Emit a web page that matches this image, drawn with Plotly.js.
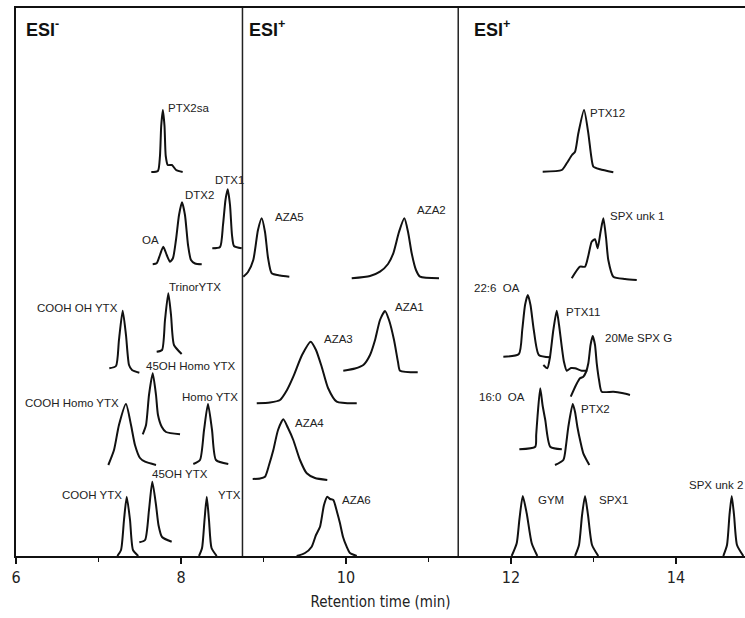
<!DOCTYPE html>
<html>
<head>
<meta charset="utf-8">
<script src="https://cdn.plot.ly/plotly-3.0.1.min.js"></script>
<style>html,body{margin:0;padding:0;background:#fff;}#chart{width:745px;height:618px;}</style>
</head>
<body>
<div id="chart"></div>
<script>
// ---- Data: retention time (min) and stacked signal (arbitrary units) ----
// ESI- panel
const ptx2sa_t = [7.64, 7.72, 7.745, 7.76, 7.78, 7.80, 7.815, 7.84, 7.89, 7.94, 8.02];
const ptx2sa_y = [384, 385, 400, 430, 446, 430, 400, 391, 391, 386, 384];
const oaDtx2_t = [7.657, 7.705, 7.745, 7.785, 7.827, 7.867, 7.903, 7.939, 7.976, 8.012, 8.048, 8.085, 8.121, 8.170, 8.251];
const oaDtx2_y = [291.7, 292.7, 301, 309.3, 301, 294.3, 298, 316, 341, 353.7, 341, 311, 296, 292.5, 291.7];
const dtx1_t = [8.379, 8.473, 8.509, 8.539, 8.566, 8.594, 8.618, 8.642, 8.736];
const dtx1_y = [307.7, 309, 331, 356, 366.7, 351, 321, 310, 307.7];
const trinor_t = [7.705, 7.770, 7.806, 7.846, 7.879, 7.915, 8.008];
const trinor_y = [204.3, 206, 236, 262.7, 241, 211, 202];
const coohOh_t = [7.131, 7.212, 7.248, 7.293, 7.333, 7.370, 7.406, 7.495];
const coohOh_y = [187.7, 190, 216, 245.3, 221, 191, 186, 183.3];
const oh45Homo_t = [7.536, 7.576, 7.612, 7.657, 7.697, 7.721, 7.766, 7.818, 7.988];
const oh45Homo_y = [121.7, 131, 161, 182.7, 161, 141, 129.3, 124, 121.7];
const homo_t = [8.149, 8.230, 8.279, 8.327, 8.376, 8.424, 8.573];
const homo_y = [92, 96, 126, 152, 126, 96, 92];
const coohHomo_t = [7.119, 7.188, 7.248, 7.333, 7.394, 7.442, 7.503, 7.564, 7.697];
const coohHomo_y = [91, 106, 131, 152, 131, 111, 98, 94.3, 91];
const oh45_t = [7.495, 7.564, 7.612, 7.652, 7.697, 7.727, 7.770, 7.887];
const oh45_y = [13.7, 16, 46, 74.3, 51, 31, 19, 14.3];
const cooh_t = [7.228, 7.273, 7.309, 7.342, 7.382, 7.418, 7.482];
const cooh_y = [0, 6, 36, 59.3, 36, 6, 0];
const ytx_t = [8.218, 8.255, 8.285, 8.312, 8.339, 8.370, 8.433];
const ytx_y = [0, 8, 36, 59.3, 36, 8, 0];
// ESI+ panel (azaspiracids)
const aza5_t = [8.755, 8.812, 8.876, 8.933, 8.978, 9.018, 9.055, 9.099, 9.200, 9.313];
const aza5_y = [279.3, 284, 296, 326, 337.7, 324, 298, 282.7, 280.5, 279.3];
const aza2_t = [10.069, 10.291, 10.412, 10.509, 10.573, 10.642, 10.707, 10.752, 10.796, 10.848, 10.897, 11.127];
const aza2_y = [277.7, 280, 284.3, 292, 302.7, 324, 337.7, 324, 302.7, 286, 279.3, 277.7];
const aza1_t = [9.967, 10.109, 10.210, 10.291, 10.352, 10.412, 10.473, 10.521, 10.582, 10.630, 10.655, 10.869];
const aza1_y = [185.3, 187.5, 191, 201, 216, 236, 245, 236, 216, 194, 185.3, 183.7];
const aza3_t = [8.918, 9.079, 9.200, 9.285, 9.361, 9.467, 9.572, 9.636, 9.705, 9.782, 9.887, 10.130];
const aza3_y = [152.7, 153.5, 156, 166, 179.3, 201, 214.3, 206, 189.3, 168, 154.3, 152.7];
const aza4_t = [8.869, 8.958, 9.018, 9.067, 9.119, 9.176, 9.240, 9.297, 9.361, 9.442, 9.524, 9.624, 9.773];
const aza4_y = [77, 77.5, 79.3, 91, 106, 126, 136.7, 128, 116, 96, 82.7, 78, 76];
const aza6_t = [9.402, 9.503, 9.584, 9.636, 9.685, 9.733, 9.773, 9.806, 9.846, 9.891, 9.927, 9.964, 10.008, 10.048, 10.130];
const aza6_y = [0, 3, 9.3, 21, 29.3, 51, 59.3, 57, 56, 44, 32.7, 19, 9.3, 3, 0];
// ESI+ panel (others)
const ptx12_t = [12.384, 12.615, 12.675, 12.739, 12.776, 12.816, 12.885, 12.937, 12.970, 12.998, 13.079, 13.240];
const ptx12_y = [384.3, 386, 392.7, 401, 404.3, 422.7, 446, 422.7, 401, 389.3, 386.7, 383.7];
const spxUnk1_t = [12.736, 12.836, 12.897, 12.939, 12.978, 13.018, 13.050, 13.085, 13.119, 13.152, 13.179, 13.240, 13.382, 13.524];
const spxUnk1_y = [277.7, 289.3, 289.3, 301, 314.3, 316.7, 307.7, 324, 337.7, 318, 296, 279.3, 277, 276];
const oa226_t = [11.907, 12.095, 12.136, 12.170, 12.204, 12.236, 12.276, 12.337, 12.479];
const oa226_y = [199.3, 202, 226, 251, 261, 251, 226, 201, 198.7];
const ptx11_t = [12.392, 12.440, 12.473, 12.513, 12.554, 12.582, 12.615, 12.642, 12.675, 12.727, 12.776, 12.857, 12.925];
const ptx11_y = [191, 187.7, 199.3, 226, 245.3, 231, 209.3, 194, 185.3, 188, 187.7, 185.3, 185.3];
const spxG_t = [12.724, 12.788, 12.836, 12.876, 12.909, 12.937, 12.964, 12.990, 13.018, 13.039, 13.067, 13.099, 13.240, 13.361, 13.442];
const spxG_y = [159.3, 171, 177.7, 179.3, 184, 192.7, 211, 220, 211, 192.7, 176, 164.3, 164.3, 162.7, 161];
const oa160_t = [12.101, 12.294, 12.305, 12.321, 12.354, 12.382, 12.415, 12.475, 12.616];
const oa160_y = [106.7, 109.3, 121, 139.3, 167.7, 151, 136, 109.3, 106.7];
const ptx2_t = [12.533, 12.634, 12.667, 12.695, 12.748, 12.776, 12.804, 12.842, 12.876, 12.949];
const ptx2_y = [91, 96, 111, 129.3, 152, 144, 129.3, 114, 102.7, 91];
const gym_t = [12.008, 12.069, 12.101, 12.142, 12.190, 12.251, 12.319];
const gym_y = [0, 12.7, 36, 60, 42.7, 12.7, 0];
const spx1_t = [12.776, 12.824, 12.861, 12.897, 12.933, 12.982, 13.058];
const spx1_y = [0, 11, 41, 60, 41, 11, 0];
const spxUnk2_t = [14.573, 14.618, 14.648, 14.675, 14.703, 14.739, 14.816];
const spxUnk2_y = [0, 11, 41, 60, 41, 11, 0];

// Peak labels: text, anchor retention time, anchor signal
const labelText = ["PTX2sa", "OA", "DTX2", "DTX1", "TrinorYTX", "COOH OH YTX", "45OH Homo YTX", "Homo YTX",
  "COOH Homo YTX", "45OH YTX", "COOH YTX", "YTX",
  "AZA5", "AZA2", "AZA1", "AZA3", "AZA4", "AZA6",
  "PTX12", "SPX unk 1", "22:6  OA", "PTX11", "20Me SPX G", "16:0  OA", "PTX2", "GYM", "SPX1", "SPX unk 2"];
const labelT = [7.815, 7.503, 8.024, 8.388, 7.827, 6.23, 7.552, 7.988,
  6.085, 7.624, 6.533, 8.424,
  9.115, 10.836, 10.57, 9.709, 9.358, 9.927,
  12.933, 13.176, 11.527, 12.642, 13.115, 11.588, 12.818, 12.303, 13.042, 14.133];
const labelY = [448, 316, 361, 376, 269, 248, 190, 159,
  153, 82, 61, 61,
  339, 346, 249, 217, 133, 56,
  443, 340, 268, 244, 218, 159, 147, 56, 56, 71];

// Panel headers
const panelText = ["ESI<sup>-</sup>", "ESI<sup>+</sup>", "ESI<sup>+</sup>"];
const panelT = [6.097, 8.80, 11.527];
const panelY = [528, 528, 528];
const dividerT = [8.745, 11.36];

const series = [
  [ptx2sa_t, ptx2sa_y], [oaDtx2_t, oaDtx2_y], [dtx1_t, dtx1_y], [trinor_t, trinor_y],
  [coohOh_t, coohOh_y], [oh45Homo_t, oh45Homo_y], [homo_t, homo_y], [coohHomo_t, coohHomo_y],
  [oh45_t, oh45_y], [cooh_t, cooh_y], [ytx_t, ytx_y],
  [aza5_t, aza5_y], [aza2_t, aza2_y], [aza1_t, aza1_y], [aza3_t, aza3_y], [aza4_t, aza4_y], [aza6_t, aza6_y],
  [ptx12_t, ptx12_y], [spxUnk1_t, spxUnk1_y], [oa226_t, oa226_y], [ptx11_t, ptx11_y], [spxG_t, spxG_y],
  [oa160_t, oa160_y], [ptx2_t, ptx2_y], [gym_t, gym_y], [spx1_t, spx1_y], [spxUnk2_t, spxUnk2_y]
];

const traces = series.map(s => ({
  x: s[0], y: s[1], type: 'scatter', mode: 'lines',
  line: {color: '#111', width: 2, shape: 'spline', smoothing: 0.6},
  hoverinfo: 'skip', showlegend: false, cliponaxis: false
}));

const labelFont = {family: 'Liberation Sans, Arial, sans-serif', size: 11.5, color: '#222'};
const annotations = labelText.map((t, i) => ({
  x: labelT[i], y: labelY[i], xref: 'x', yref: 'y', text: t, showarrow: false,
  xanchor: 'left', yanchor: 'middle', font: labelFont
})).concat(panelText.map((t, i) => ({
  x: panelT[i], y: panelY[i], xref: 'x', yref: 'y', text: t, showarrow: false,
  xanchor: 'left', yanchor: 'middle',
  font: {family: 'Liberation Sans, Arial, sans-serif', size: 18, color: '#111', weight: 'bold'}
})));

const shapes = dividerT.map(d => ({
  type: 'line', xref: 'x', yref: 'paper', x0: d, x1: d, y0: 0, y1: 1,
  line: {color: '#222', width: 1.5}
}));

const layout = {
  width: 745, height: 618,
  margin: {l: 16, r: 0, t: 8, b: 62},
  paper_bgcolor: '#fff', plot_bgcolor: '#fff',
  showlegend: false,
  xaxis: {
    range: [6, 14.836], showgrid: false, zeroline: false,
    showline: true, linecolor: '#111', linewidth: 2, mirror: true,
    ticks: 'outside', ticklen: 6, tickwidth: 1.5, tickcolor: '#111',
    tick0: 6, dtick: 2,
    minor: {ticks: 'outside', ticklen: 4, tickwidth: 1.5, tickcolor: '#111', dtick: 1, showgrid: false},
    tickfont: {family: 'Liberation Sans Narrow, DejaVu Sans Condensed, Liberation Sans, sans-serif', size: 16, color: '#222'},
    title: {text: 'Retention time (min)', standoff: 10,
      font: {family: 'Liberation Sans Narrow, DejaVu Sans Condensed, Liberation Sans, sans-serif', size: 15, color: '#222'}}
  },
  yaxis: {
    range: [0, 548], showgrid: false, zeroline: false, showticklabels: false,
    showline: true, linecolor: '#111', linewidth: 2, ticks: ''
  },
  annotations: annotations,
  shapes: shapes
};

Plotly.newPlot('chart', traces, layout, {displayModeBar: false, staticPlot: true});
</script>
</body>
</html>
